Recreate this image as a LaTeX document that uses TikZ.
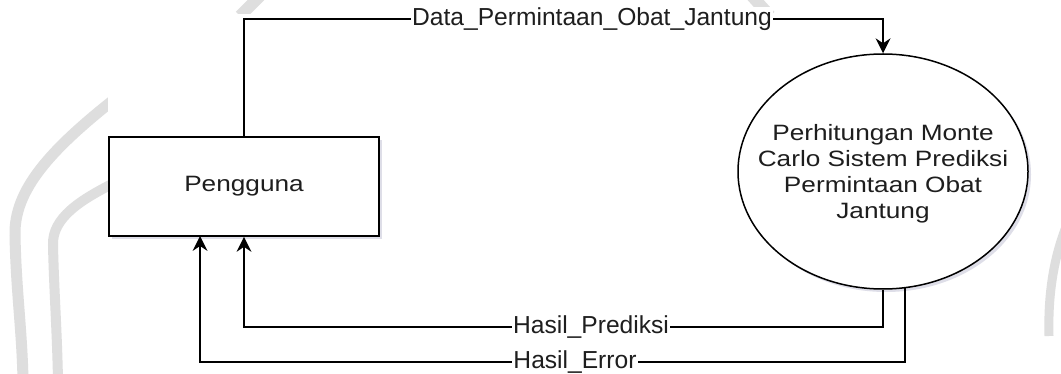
\documentclass[tikz,border=0pt]{standalone}
\usepackage{fontspec}
\setmainfont{Liberation Sans}
\newfontfamily\shapefont[FakeStretch=1.18]{Liberation Sans}
\newfontfamily\flowfont[FakeStretch=1.0]{Liberation Sans}
\usetikzlibrary{shapes.geometric,arrows.meta,shadows}

\definecolor{ink}{RGB}{30,30,30}
\definecolor{wmark}{RGB}{222,222,222}
\definecolor{shade}{RGB}{200,200,218}

\tikzset{
  softshadow/.style={drop shadow={shadow xshift=3pt, shadow yshift=-3pt,
      fill=shade, opacity=0.6}},
  entity/.style={draw=black, line width=1.7pt, fill=white, softshadow,
      minimum width=270pt, minimum height=99pt, inner sep=0pt,
      font=\shapefont\fontsize{22.2}{26}\selectfont, text=ink},
  process/.style={ellipse, draw=black, line width=1.5pt, fill=white, softshadow,
      minimum width=290pt, minimum height=235pt, inner sep=0pt},
  flow/.style={draw=black, line width=1.7pt},
  flowtip/.style={flow, -{Stealth[length=15pt,width=15pt,inset=5pt,line width=0pt]}},
  flowlabel/.style={fill=white, inner sep=1pt, text=ink,
      font=\flowfont\fontsize{24.6}{26}\selectfont},
  wm/.style={draw=wmark, line width=11pt, line cap=butt}
}

\begin{document}
\begin{tikzpicture}[x=1pt, y=-1pt]
  \useasboundingbox (0,0) rectangle (1061,374);
  \fill[white] (0,0) rectangle (1061,374);

  % faint watermark arcs behind the diagram
  \draw[wm] (116,98) .. controls (50,150) and (14,190) .. (15,235)
            .. controls (16,290) and (22,330) .. (23,380);
  \draw[wm, line width=10pt] (116,182) .. controls (80,200) and (52,218) .. (53,245)
            .. controls (54,290) and (57,330) .. (58,380);
  \draw[wm, line width=12pt] (240,16) -- (260,-4);
  \draw[wm, line width=12pt] (752,-4) -- (770,16);
  \draw[wm, line width=9pt] (1068,222) .. controls (1052,260) and (1048,300) .. (1049,336);
  \fill[white] (108,14) rectangle (1040,374);

  % nodes
  \node[entity] (user) at (244,186.5) {Pengguna};
  \node[process] (proc) at (883,171.5) {};
  \node[font=\shapefont\fontsize{22.2}{26}\selectfont, text=ink, align=center]
       (proctext) at (883,174)
       {Perhitungan Monte\\Carlo Sistem Prediksi\\Permintaan Obat\\Jantung};

  % routing points
  \coordinate (d1) at (244,19);
  \coordinate (d2) at (883,19);
  \coordinate (p1) at (883,327);
  \coordinate (p2) at (244,327);
  \coordinate (e0) at (905,287.6);
  \coordinate (e1) at (905,362);
  \coordinate (e2) at (200,362);
  \coordinate (e3) at (200,236);

  % data flows
  \draw[flowtip] (user.north) -- (d1) -- (d2) -- (proc.north);
  \draw[flowtip] (proc.south) -- (p1) -- (p2) -- (user.south);
  \draw[flowtip] (e0) -- (e1) -- (e2) -- (e3);

  % flow labels
  \node[flowlabel] (ldata) at (592,19) {Data\_Permintaan\_Obat\_Jantung};
  \node[flowlabel] (lpred) at (591,327) {Hasil\_Prediksi};
  \node[flowlabel] (lerr) at (575,362) {Hasil\_Error};
\end{tikzpicture}
\end{document}
